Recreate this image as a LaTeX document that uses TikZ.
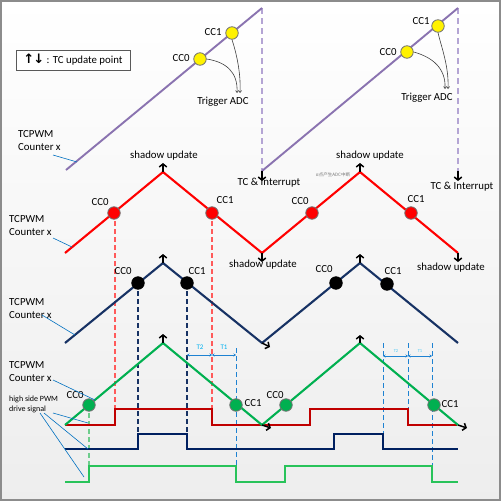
\documentclass[tikz,border=0pt]{standalone}
\usepackage{fontspec}
\setmainfont{Carlito}
\newfontfamily\cjkf{Noto Sans CJK SC}
\newfontfamily\symf{DejaVu Sans}
\usetikzlibrary{arrows.meta}
\definecolor{cpurple}{RGB}{138,115,176}
\definecolor{cpurpled}{RGB}{180,165,212}
\definecolor{cred}{RGB}{255,0,0}
\definecolor{credd}{RGB}{255,90,90}
\definecolor{cnavy}{RGB}{23,50,100}
\definecolor{cgreen}{RGB}{0,176,80}
\definecolor{cgreend}{RGB}{110,205,140}
\definecolor{cdred}{RGB}{192,0,0}
\definecolor{cpwmgreen}{RGB}{40,195,90}
\definecolor{cpwmnavy}{RGB}{0,32,96}
\definecolor{clblue}{RGB}{30,130,210}
\definecolor{ccyan}{RGB}{0,176,240}
\definecolor{cleader}{RGB}{0,112,192}
\tikzset{
  wave/.style={line width=2.1pt, line join=miter},
  pwm/.style={line width=2pt, line join=miter},
  vdash/.style={line width=1.1pt, dash pattern=on 5pt off 3pt},
  tcu/.style={line width=1.5pt, -{Straight Barb[length=3pt,width=7.5pt]}},
  lbl/.style={font=\fontsize{10.8}{12}\selectfont, inner sep=0pt},
  lft/.style={font=\fontsize{10.8}{13.5}\selectfont, inner sep=0pt, align=left, anchor=north west},
  leader/.style={cleader, line width=0.6pt},
  dot/.style={circle, minimum size=12.5pt, inner sep=0pt, draw=black!55, line width=0.8pt},
  adcarrow/.style={black!75, line width=0.6pt, -{Straight Barb[length=2pt,width=3pt]}},
  dim/.style={clblue, line width=0.8pt, {Stealth[length=2.5pt,width=3pt]}-{Stealth[length=2.5pt,width=3pt]}}
}
\begin{document}
\begin{tikzpicture}[x=1pt,y=-1pt]
\useasboundingbox (0,0) rectangle (501,501);
\shade[top color=white, bottom color=black!7] (0,0) rectangle (501,501);
\draw[black!45, line width=1.5pt] (1,1) rectangle (500,500);

% legend
\node[draw=black!65, fill=white, line width=0.8pt, minimum width=114pt, minimum height=20pt, inner sep=0pt,
      font=\fontsize{10.8}{12}\selectfont] (legend) at (73,60) {{\symf\bfseries\fontsize{13}{13}\selectfont ↑\kern-1pt↓} : TC update point};

% ---------- purple sawtooth ----------
\coordinate (pa) at (66,170);
\coordinate (pb) at (262,8);
\coordinate (pc) at (262,171);
\coordinate (pd) at (458,8);
\coordinate (pe) at (458,171);
\coordinate (ta1) at (262,181);
\coordinate (ta2) at (458,181);
\draw[cpurpled, line width=1.6pt, dash pattern=on 6pt off 4pt] (pb) -- (pc) (pd) -- (pe);
\draw[cpurple, line width=1.9pt] (pa) -- (pb) (pc) -- (pd);
\draw[tcu] (pc) -- (ta1);
\draw[tcu] (pe) -- (ta2);
\node[lbl] (tci1) at (269,183) {TC \& Interrupt};
\node[lbl] (tci2) at (462,187) {TC \& Interrupt};

\node[dot, fill=yellow] (y0a) at (200,59) {};
\node[dot, fill=yellow] (y1a) at (232,33) {};
\node[dot, fill=yellow] (y0b) at (407,52) {};
\node[dot, fill=yellow] (y1b) at (438,26) {};
\node[lbl] (ly0a) at (181,58) {CC0};
\node[lbl] (ly1a) at (213,32) {CC1};
\node[lbl] (ly0b) at (388,52) {CC0};
\node[lbl] (ly1b) at (421,21) {CC1};
\node[lbl] (tadc1) at (223,102) {Trigger ADC};
\node[lbl] (tadc2) at (427,98) {Trigger ADC};
\coordinate (ea1) at (237,93);
\coordinate (eb1) at (240,93);
\coordinate (ea2) at (445,89);
\coordinate (eb2) at (448,89);
\draw[adcarrow] (y0a.east) .. controls (226,62) and (238,72) .. (ea1);
\draw[adcarrow] (y1a.south) .. controls (236,52) and (241,72) .. (eb1);
\draw[adcarrow] (y0b.east) .. controls (432,57) and (446,68) .. (ea2);
\draw[adcarrow] (y1b.south) .. controls (441,46) and (449,66) .. (eb2);

% ---------- dashed guides ----------
\draw[credd, vdash] (115,213) -- (115,409) (212,213) -- (212,409);
\draw[cnavy, vdash] (138,283) -- (138,434) (187,283) -- (187,434);
\draw[cgreend, vdash] (89,405) -- (89,466);
\draw[clblue, line width=0.9pt, dash pattern=on 5pt off 3pt] (236,348) -- (236,466);
\draw[clblue, line width=0.9pt, dash pattern=on 5pt off 3pt] (383,343) -- (383,449) (408,343) -- (408,425) (432,343) -- (432,466);

% T1 T2
\coordinate (d1) at (187,355);
\coordinate (d2) at (212,355);
\coordinate (d3) at (236,355);
\draw[dim] (d1) -- (d2);
\draw[dim] (d2) -- (d3);
\node[inner sep=0pt, text=ccyan, font=\fontsize{7}{8}\selectfont] (t2a) at (200,347) {T2};
\node[inner sep=0pt, text=ccyan, font=\fontsize{7}{8}\selectfont] (t1a) at (224,347) {T1};
\coordinate (e1) at (383,356);
\coordinate (e2) at (408,356);
\coordinate (e3) at (432,356);
\draw[dim] (e1) -- (e2);
\draw[dim] (e2) -- (e3);
\node[inner sep=0pt, text=ccyan!70, font=\fontsize{4.5}{5}\selectfont] (t2b) at (396,351) {T2};
\node[inner sep=0pt, text=ccyan!70, font=\fontsize{4.5}{5}\selectfont] (t1b) at (420,351) {T1};

% ---------- red triangle ----------
\coordinate (r0) at (65,253);
\coordinate (r1) at (163,172);
\coordinate (r2) at (262,253);
\coordinate (r3) at (360,172);
\coordinate (r4) at (458,253);
\draw[cred, wave] (r0) -- (r1) -- (r2) -- (r3) -- (r4);
\coordinate (ru1) at (163,163);
\coordinate (ru2) at (360,163);
\coordinate (rd1) at (262,262);
\coordinate (rd2) at (458,262);
\draw[tcu] (r1) -- (ru1);
\draw[tcu] (r3) -- (ru2);
\draw[tcu] (r2) -- (rd1);
\draw[tcu] (r4) -- (rd2);
\node[lbl] (su1) at (164,156) {shadow update};
\node[lbl] (su2) at (263,265) {shadow update};
\node[lbl] (su3) at (370,156) {shadow update};
\node[lbl] (su4) at (451,268) {shadow update};
\node[inner sep=0pt, text=black!55, font=\cjkf\fontsize{4.5}{5}\selectfont] (cjk) at (333,175) {α点产生ADC中断};
\node[dot, fill=cred] (r0a) at (114,213) {};
\node[dot, fill=cred] (r1a) at (212,213) {};
\node[dot, fill=cred] (r0b) at (312,213) {};
\node[dot, fill=cred] (r1b) at (411,213) {};
\node[lbl] (lr0a) at (100,202) {CC0};
\node[lbl] (lr1a) at (225,200) {CC1};
\node[lbl] (lr0b) at (300,201) {CC0};
\node[lbl] (lr1b) at (416,199) {CC1};

% ---------- navy triangle ----------
\coordinate (b0) at (65,343);
\coordinate (b1) at (163,263);
\coordinate (b2) at (262,343);
\coordinate (b3) at (360,263);
\coordinate (b4) at (458,343);
\draw[cnavy, wave] (b0) -- (b1) -- (b2) -- (b3) -- (b4);
\coordinate (bu1) at (163,254);
\coordinate (bu2) at (360,254);
\coordinate (bv1) at (270,347);
\draw[tcu] (b1) -- (bu1);
\draw[tcu] (b3) -- (bu2);
\draw[tcu] (b2) -- (bv1);
\node[dot, fill=black, draw=black] (b0a) at (138,283) {};
\node[dot, fill=black, draw=black] (b1a) at (187,283) {};
\node[dot, fill=black, draw=black] (b0b) at (336,283) {};
\node[dot, fill=black, draw=black] (b1b) at (387,284) {};
\node[lbl] (lb0a) at (123,271) {CC0};
\node[lbl] (lb1a) at (197,271) {CC1};
\node[lbl] (lb0b) at (324,269) {CC0};
\node[lbl] (lb1b) at (393,271) {CC1};

% ---------- PWM signals ----------
\draw[cdred, pwm] (65,425) -- (115,425) -- (115,409) -- (212,409) -- (212,425) -- (310,425) -- (310,409) -- (408,409) -- (408,425) -- (457,425);
\draw[cpwmnavy, pwm] (65,449) -- (138,449) -- (138,434) -- (187,434) -- (187,449) -- (334,449) -- (334,434) -- (383,434) -- (383,449) -- (458,449);
\draw[cpwmgreen, pwm] (65,482) -- (89,482) -- (89,466) -- (236,466) -- (236,482) -- (285,482) -- (285,466) -- (432,466) -- (432,482) -- (458,482);

% ---------- green triangle ----------
\coordinate (g0) at (65,425);
\coordinate (g1) at (163,343);
\coordinate (g2) at (262,425);
\coordinate (g3) at (360,343);
\coordinate (g4) at (458,425);
\draw[cgreen, wave] (g0) -- (g1) -- (g2) -- (g3) -- (g4);
\coordinate (gu1) at (163,334);
\coordinate (gu2) at (360,335);
\coordinate (gv1) at (271,428);
\coordinate (gv2) at (467,428);
\draw[tcu] (g1) -- (gu1);
\draw[tcu] (g3) -- (gu2);
\draw[tcu] (g2) -- (gv1);
\draw[tcu] (g4) -- (gv2);
\node[dot, fill=cgreen] (g0a) at (89,405) {};
\node[dot, fill=cgreen] (g1a) at (236,405) {};
\node[dot, fill=cgreen] (g0b) at (286,405) {};
\node[dot, fill=cgreen] (g1b) at (434,405) {};
\node[lbl] (lg0a) at (75,395) {CC0};
\node[lbl] (lg1a) at (253,403) {CC1};
\node[lbl] (lg0b) at (275,395) {CC0};
\node[lbl] (lg1b) at (450,404) {CC1};

% ---------- left labels ----------
\node[lft] (lab1) at (18,130) {TCPWM\\Counter x};
\node[lft] (lab2) at (9,215) {TCPWM\\Counter x};
\node[lft] (lab3) at (9,298) {TCPWM\\Counter x};
\node[lft] (lab4) at (9,361) {TCPWM\\Counter x};
\node[inner sep=0pt, align=left, anchor=north west, font=\fontsize{8}{10}\selectfont] (lab5) at (9,396) {high side PWM\\drive signal};
\coordinate (k1) at (77,162);
\coordinate (k2) at (72,247);
\coordinate (k3) at (75,335);
\coordinate (k4) at (95,400);
\coordinate (k5) at (88,423);
\coordinate (k6) at (88,449);
\coordinate (k7) at (84,477);
\draw[leader] (53,155) -- (k1);
\draw[leader] (53,238) -- (k2);
\draw[leader] (42,315) -- (k3);
\draw[leader] (53,380) -- (k4);
\draw[leader] (53,413) -- (k5);
\draw[leader] (44,413) -- (k6);
\draw[leader] (40,413) -- (k7);
\end{tikzpicture}
\end{document}
